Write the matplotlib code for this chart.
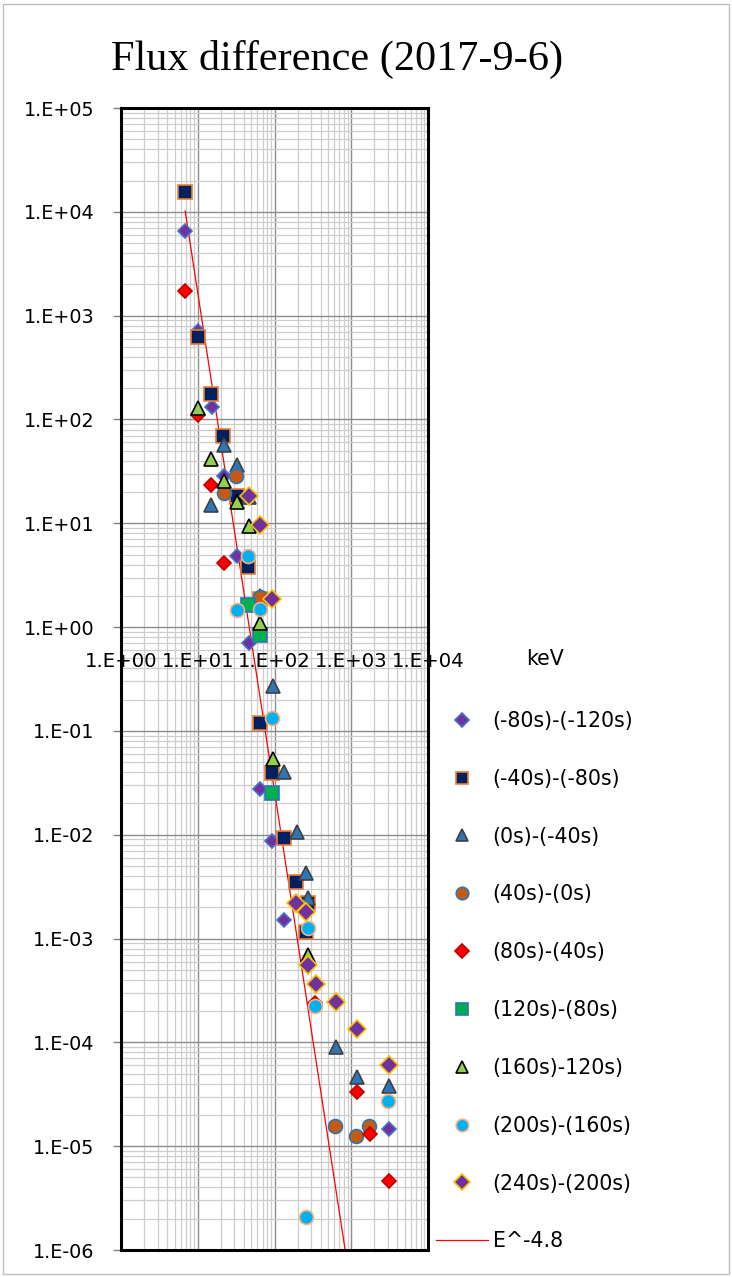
import matplotlib
matplotlib.use("Agg")
import matplotlib.pyplot as plt
import numpy as np
from matplotlib.ticker import FixedLocator, LogLocator, NullFormatter
from matplotlib.patches import Rectangle

title = "Flux difference (2017-9-6)"
x_label = "keV"
x_tick_vals = [1, 10, 100, 1000, 10000]
x_tick_labels = ["1.E+00", "1.E+01", "1.E+02", "1.E+03", "1.E+04"]
y_tick_vals = [1e5, 1e4, 1e3, 1e2, 1e1, 1e0, 1e-1, 1e-2, 1e-3, 1e-4, 1e-5, 1e-6]
y_tick_labels = ["1.E+05", "1.E+04", "1.E+03", "1.E+02", "1.E+01", "1.E+00",
                 "1.E-01", "1.E-02", "1.E-03", "1.E-04", "1.E-05", "1.E-06"]

labels = ["(-80s)-(-120s)", "(-40s)-(-80s)", "(0s)-(-40s)", "(40s)-(0s)", "(80s)-(40s)",
          "(120s)-(80s)", "(160s)-120s)", "(200s)-(160s)", "(240s)-(200s)"]

s1_x = [6.9, 10.2, 15.5, 22, 32.1, 46.5, 64.7, 93.6, 134, 3104]
s1_y = [6490, 716, 133, 28.7, 4.86, 0.71, 0.0275, 0.0087, 0.00152, 1.48e-5]

s2_x = [6.9, 10.2, 14.9, 21.5, 32.1, 45.6, 64.7, 64.7, 93.6, 133, 189, 276, 255]
s2_y = [15600, 618, 176, 68.7, 18.4, 3.76, 1.85, 0.118, 0.0392, 0.0092, 0.00347, 0.0022, 0.00115]

s3_x = [15.1, 22, 32.1, 46.5, 64.7, 94.7, 134, 195, 257, 276, 627, 1178, 3104]
s3_y = [15.0, 56.7, 36.4, 18.0, 2.0, 0.268, 0.0404, 0.0107, 0.00427, 0.00245, 8.93e-5, 4.59e-5, 3.81e-5]

s4_x = [22, 31.5, 64.7, 614, 1153, 1718]
s4_y = [19.5, 28.7, 1.93, 1.55e-5, 1.24e-5, 1.56e-5]

s5_x = [6.9, 10.2, 14.9, 22, 337, 1178, 1754, 3104]
s5_y = [1740, 110, 23.3, 4.1, 2.4e-4, 3.34e-5, 1.31e-5, 4.57e-6]

s6_x = [44.8, 64.7, 93.6]
s6_y = [1.64, 0.837, 0.025]

s7_x = [10.2, 14.9, 22, 32.8, 46.5, 64.7, 94.7, 271]
s7_y = [128, 41.5, 25.7, 16.1, 9.46, 1.09, 0.0535, 0.00069]

s8_x = [45.6, 32.1, 64.7, 93.6, 271, 337, 3050, 255]
s8_y = [4.86, 1.47, 1.49, 0.133, 0.00125, 0.000222, 2.7e-5, 2.06e-6]

s9_x = [46.5, 64.7, 93.6, 190, 255, 271, 344, 627, 1178, 3104]
s9_y = [18.4, 9.68, 1.86, 0.00218, 0.00181, 0.00056, 0.000364, 0.000245, 0.000134, 6.07e-5]

fit_label = "E^-4.8"
fit_index = -4.8
fit_amp = 10 ** 8.02
fit_x_range = [6.85, 850]

series_x = [s1_x, s2_x, s3_x, s4_x, s5_x, s6_x, s7_x, s8_x, s9_x]
series_y = [s1_y, s2_y, s3_y, s4_y, s5_y, s6_y, s7_y, s8_y, s9_y]
styles = [
    dict(marker="D", mfc="#7030A0", mec="#4472C4", ms=7.5),
    dict(marker="s", mfc="#002060", mec="#ED7D31", ms=9.5),
    dict(marker="^", mfc="#2E75B6", mec="#404040", ms=10),
    dict(marker="o", mfc="#C55A11", mec="#2E75B6", ms=10),
    dict(marker="D", mfc="#FF0000", mec="#C00000", ms=7.5),
    dict(marker="s", mfc="#00B050", mec="#2E75B6", ms=9.5),
    dict(marker="^", mfc="#92D050", mec="#000000", ms=10),
    dict(marker="o", mfc="#00B0F0", mec="#F4B183", ms=10),
    dict(marker="D", mfc="#7030A0", mec="#FFC000", ms=9),
]

fig = plt.figure(figsize=(7.32, 12.77), dpi=100)
ax = fig.add_axes([121/732, 1-1250/1277, 307/732, 1142/1277])
ax.set_xscale("log")
ax.set_yscale("log")
ax.set_xlim(1, 1e4)
ax.set_ylim(1e-6, 1e5)

fx = np.logspace(np.log10(fit_x_range[0]), np.log10(fit_x_range[1]), 50)
line_handle, = ax.plot(fx, fit_amp * fx ** fit_index, color="#FF0000", lw=0.9, zorder=2, label=fit_label)

handles = []
for xs, ys, lab, st in zip(series_x, series_y, labels, styles):
    h, = ax.plot(xs, ys, linestyle="none", marker=st["marker"], markerfacecolor=st["mfc"],
                 markeredgecolor=st["mec"], markersize=st["ms"], markeredgewidth=1.2,
                 label=lab, zorder=3)
    handles.append(h)
handles.append(line_handle)

ax.xaxis.set_major_locator(FixedLocator(x_tick_vals))
ax.xaxis.set_minor_locator(LogLocator(base=10, subs=np.arange(2, 10), numticks=20))
ax.xaxis.set_major_formatter(NullFormatter())
ax.xaxis.set_minor_formatter(NullFormatter())
ax.tick_params(axis="x", which="both", length=0)

ax.yaxis.set_major_locator(FixedLocator(y_tick_vals))
ax.set_yticklabels(y_tick_labels, fontsize=13.8, family="DejaVu Sans")
ax.yaxis.set_minor_locator(LogLocator(base=10, subs=np.arange(2, 10), numticks=20))
ax.yaxis.set_minor_formatter(NullFormatter())
ax.tick_params(axis="y", which="major", length=6, width=1, color="#808080", pad=13)
ax.tick_params(axis="y", which="minor", length=0)

ax.grid(True, which="major", color="#8c8c8c", lw=1.0, zorder=0)
ax.grid(True, which="minor", color="#cdcdcd", lw=0.9, zorder=0)
ax.set_axisbelow(True)
for sp in ax.spines.values():
    sp.set_linewidth(2.2)
    sp.set_color("black")

for xv, xl in zip(x_tick_vals, x_tick_labels):
    ax.annotate(xl, xy=(xv, 1), xytext=(0, -34), textcoords="offset pixels",
                ha="center", va="center", fontsize=14.2, family="DejaVu Sans",
                annotation_clip=False)
ax.annotate(x_label, xy=(1e4, 1), xytext=(117, -32), textcoords="offset pixels",
            ha="center", va="center", fontsize=14.8, family="DejaVu Sans", annotation_clip=False)

fig.text(337/732, 1-70/1277, title, ha="center", va="baseline", fontsize=30.4,
         family="Liberation Serif")

leg = fig.legend(handles=handles, loc="upper left", bbox_to_anchor=(436/732, 1-711/1277),
                 frameon=False, prop={"family": "DejaVu Sans", "size": 14.8},
                 labelspacing=1.84, handlelength=2.55, handletextpad=0.2, markerscale=0.9,
                 borderaxespad=0, borderpad=0)

fig.add_artist(Rectangle((0.004, 0.002), 0.992, 0.995, transform=fig.transFigure,
                         fill=False, edgecolor="#bfbfbf", lw=1))

fig.savefig("out.png", dpi=100)
